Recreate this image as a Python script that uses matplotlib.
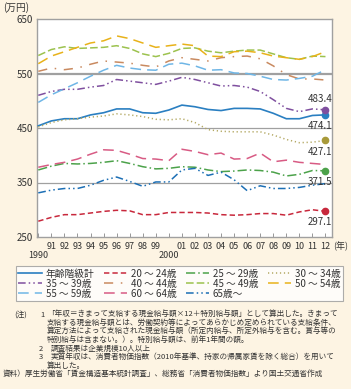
import matplotlib
matplotlib.use("Agg")
import matplotlib.pyplot as plt
from matplotlib.transforms import blended_transform_factory

plt.rcParams["font.family"] = ["Noto Sans CJK JP", "DejaVu Sans"]

years = list(range(1990, 2013))

total = [454, 463, 467, 467, 474, 478, 485, 485, 478, 477, 483, 492, 489, 484, 482, 486, 486, 485, 477, 467, 467, 473, 474.1]
age20_24 = [279, 286, 291, 291, 294, 297, 299, 298, 291, 291, 295, 295, 295, 294, 291, 290, 291, 293, 293, 290, 296, 300, 297.1]
age25_29 = [373, 380, 385, 384, 385, 387, 390, 385, 379, 375, 376, 379, 378, 373, 370, 371, 373, 372, 369, 362, 365, 372, 371.5]
age30_34 = [452, 460, 465, 467, 470, 472, 476, 474, 471, 466, 465, 467, 460, 447, 444, 443, 443, 443, 437, 429, 423, 424, 427.1]
age35_39 = [510, 517, 521, 521, 525, 528, 539, 536, 533, 530, 536, 543, 539, 533, 527, 528, 525, 517, 502, 486, 480, 485, 483.4]
age40_44 = [554, 560, 557, 560, 567, 573, 571, 569, 565, 562, 573, 579, 576, 573, 579, 581, 582, 577, 564, 548, 540, 540, 538]
age45_49 = [583, 594, 599, 596, 597, 598, 601, 596, 586, 581, 587, 596, 597, 591, 588, 591, 593, 593, 586, 579, 576, 582, 581]
age50_54 = [568, 582, 590, 598, 606, 610, 619, 614, 606, 598, 601, 604, 601, 582, 581, 590, 591, 588, 582, 579, 576, 581, 590]
age55_59 = [497, 511, 522, 533, 545, 556, 565, 560, 557, 556, 567, 569, 564, 556, 557, 551, 550, 545, 539, 538, 541, 545, 557]
age60_64 = [378, 383, 387, 393, 402, 410, 409, 402, 394, 393, 390, 411, 407, 401, 404, 393, 394, 404, 388, 391, 387, 385, 383]
age65 = [331, 336, 339, 339, 345, 354, 360, 352, 343, 351, 351, 373, 376, 363, 369, 355, 335, 344, 339, 339, 341, 345, 348]

series = [
    ("年齢階級計", total, "#2a7fc1", None),
    ("20 ～ 24歳", age20_24, "#c8283c", (3.5, 2)),
    ("25 ～ 29歳", age25_29, "#4ca24a", (6, 2, 1, 2)),
    ("30 ～ 34歳", age30_34, "#b3a862", (0.8, 1.8)),
    ("35 ～ 39歳", age35_39, "#7f4f9f", (5, 2, 1, 2, 1, 2)),
    ("40 ～ 44歳", age40_44, "#c98a60", (6, 5, 1, 5)),
    ("45 ～ 49歳", age45_49, "#9cc24e", (5, 2)),
    ("50 ～ 54歳", age50_54, "#e8b21a", (7, 4)),
    ("55 ～ 59歳", age55_59, "#6fb6e6", (7, 4)),
    ("60 ～ 64歳", age60_64, "#d85b84", (7, 4)),
    ("65歳～", age65, "#1c6fb5", (5, 2, 1, 2, 1, 2)),
]

# end labels: (series index, offset in points)
end_labels = [
    (0, (5, -8)), (4, (5, 8)), (3, (5, -8)), (2, (5, -8)), (1, (5, -8)),
]

bg = "#fdf4e3"
fig = plt.figure(figsize=(3.51, 3.89), dpi=100, facecolor=bg)
ax = fig.add_axes([37 / 351, 1 - 237 / 389, 295 / 351, 218 / 389])
ax.set_facecolor("white")

for y, lw in [(350, 0.9), (450, 0.9), (550, 1.6)]:
    ax.axhline(y, color="#a0a0a0", lw=lw, zorder=1)

handles = []
for name, vals, color, dash in series:
    if dash is None:
        (ln,) = ax.plot(years, vals, color=color, lw=1.2, label=name, zorder=3)
    else:
        (ln,) = ax.plot(years, vals, color=color, lw=1.1, dashes=dash, label=name, zorder=3)
    handles.append(ln)

for idx, off in end_labels:
    name, vals, color, _ = series[idx]
    mcol = "#a89a3a" if idx == 3 else color
    ax.plot(years[-1], vals[-1], "o", color=mcol, ms=4.5, zorder=4)
    ax.annotate(f"{vals[-1]:.1f}", (years[-1], vals[-1]), xytext=off,
                textcoords="offset points", ha="right", va="center",
                fontsize=7, color="#333333")

ax.set_xlim(1989.9, 2012.5)
ax.set_ylim(250, 650)
ax.set_yticks([250, 350, 450, 550, 650])
ax.tick_params(axis="y", length=0, labelsize=7, pad=3, colors="#333333")
ax.set_xticks(years)
ax.set_xticklabels(["" if yr in (1990, 2000) else f"{yr % 100:02d}" for yr in years])
ax.tick_params(axis="x", direction="in", length=3, width=0.6, color="#888888",
               labelsize=6.5, pad=3.5, labelcolor="#333333")
for s in ax.spines.values():
    s.set_color("#a0a0a0")
    s.set_linewidth(1.0)

# decade labels on a second row
tr = blended_transform_factory(ax.transData, fig.transFigure)
for yr in (1990, 2000):
    ax.text(yr, 1 - 255 / 389, str(yr), transform=tr,
            ha="center", va="center", fontsize=6.5, color="#333333")
fig.text(348 / 351, 1 - 246 / 389, "(年)", ha="right", va="center", fontsize=6.5, color="#333333")
fig.text(3 / 351, 1 - 8 / 389, "(万円)", ha="left", va="center", fontsize=7, color="#333333")

order = [0, 4, 8, 1, 5, 9, 2, 6, 10, 3, 7]
leg = fig.legend([handles[i] for i in order], [series[i][0] for i in order],
                 loc="lower left", ncol=4, mode="expand",
                 bbox_to_anchor=(16 / 351, 1 - 301 / 389, 327 / 351, 40 / 389),
                 fontsize=7, frameon=True, fancybox=False, handlelength=2.4,
                 handletextpad=0.4, columnspacing=0.6, labelspacing=0.0,
                 borderpad=0.25, borderaxespad=0)
leg.get_frame().set_edgecolor("#999999")
leg.get_frame().set_linewidth(0.8)
for t in leg.get_texts():
    t.set_color("#333333")

notes = [
    (14, 315, "(注)"),
    (40, 315, "1"),
    (47, 315, "「年収＝きまって支給する現金給与額×12＋特別給与額」として算出した。きまって"),
    (47, 324, "支給する現金給与額とは、労働契約等によってあらかじめ定められている支給条件、"),
    (47, 332, "算定方法によって支給された現金給与額（所定内給与、所定外給与を含む。賞与等の"),
    (47, 341, "特別給与は含まない。）。特別給与額は、前年1年間の額。"),
    (39, 349, "2"),
    (51, 349, "調査結果は企業規模10人以上"),
    (39, 357, "3"),
    (51, 357, "実質年収は、消費者物価指数（2010年基準、持家の帰属家賃を除く総合）を用いて"),
    (47, 366, "算出した。"),
    (3, 374, "資料）厚生労働省「賃金構造基本統計調査」、総務省「消費者物価指数」より国土交通省作成"),
]
for x, y, s in notes:
    fig.text(x / 351, 1 - y / 389, s, ha="left", va="center", fontsize=5.5, color="#333333")

fig.savefig("out.png", dpi=100, facecolor=bg)
